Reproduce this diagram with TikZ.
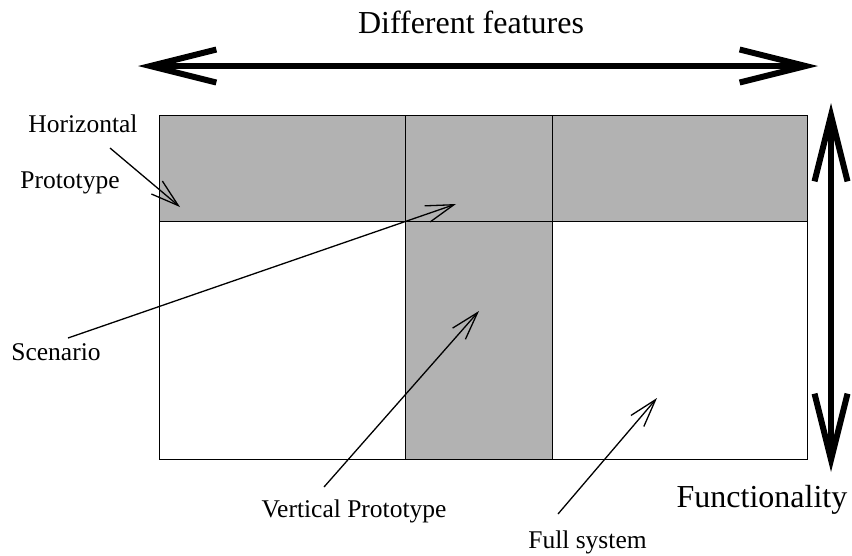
\documentclass[tikz,border=0pt]{standalone}
\usepackage{fontspec}
\setmainfont{Liberation Serif}
\usetikzlibrary{arrows.meta}
\begin{document}
\begin{tikzpicture}[x=1pt,y=-1pt,
  bigtxt/.style={inner sep=0pt,anchor=base,font=\fontsize{32}{38}\selectfont},
  smalltxt/.style={inner sep=0pt,anchor=base,font=\fontsize{25.5}{30}\selectfont},
  pointer/.style={line width=1.3pt,-{Straight Barb[length=28pt,width=17pt]}},
  axis/.style={line width=6pt,
    {Straight Barb[length=66pt,width=33pt]}-{Straight Barb[length=66pt,width=33pt]}},
  shade/.style={fill=black!30,draw=none},
  grid/.style={line width=1pt}]
\useasboundingbox (0,0) rectangle (852,555);

% shaded prototype regions
\fill[shade] (159,115) rectangle (807,221);
\fill[shade] (405,221) rectangle (552,459);

% frame and dividing lines
\draw[grid] (159,115) rectangle (807,459);
\draw[grid] (159,221) -- (807,221);
\draw[grid] (405,115) -- (405,459);
\draw[grid] (552,115) -- (552,459);

% axes
\coordinate (featL) at (138,66);
\coordinate (featR) at (818,66);
\coordinate (funcT) at (831,103);
\coordinate (funcB) at (831,472);
\draw[axis] (featL) -- (featR);
\draw[axis] (funcT) -- (funcB);

% axis labels
\node[bigtxt] (features) at (471,33) {Different features};
\node[bigtxt] (functionality) at (762,507) {Functionality};

% region labels
\node[smalltxt] (horiz) at (83,132) {Horizontal};
\node[smalltxt] (horizb) at (70,188) {Prototype};
\node[smalltxt] (scen) at (56,360) {Scenario};
\node[smalltxt] (vert) at (354,517) {Vertical Prototype};
\node[smalltxt] (full) at (587.5,548) {Full system};

% pointer start and end points
\coordinate (hS) at (110,148);
\coordinate (hE) at (180,207);
\coordinate (sS) at (68,338);
\coordinate (sE) at (456,204);
\coordinate (vS) at (324,487);
\coordinate (vE) at (479,311);
\coordinate (fS) at (558,514);
\coordinate (fE) at (657,398);

\draw[pointer] (hS) -- (hE);
\draw[pointer] (sS) -- (sE);
\draw[pointer] (vS) -- (vE);
\draw[pointer] (fS) -- (fE);
\end{tikzpicture}
\end{document}
